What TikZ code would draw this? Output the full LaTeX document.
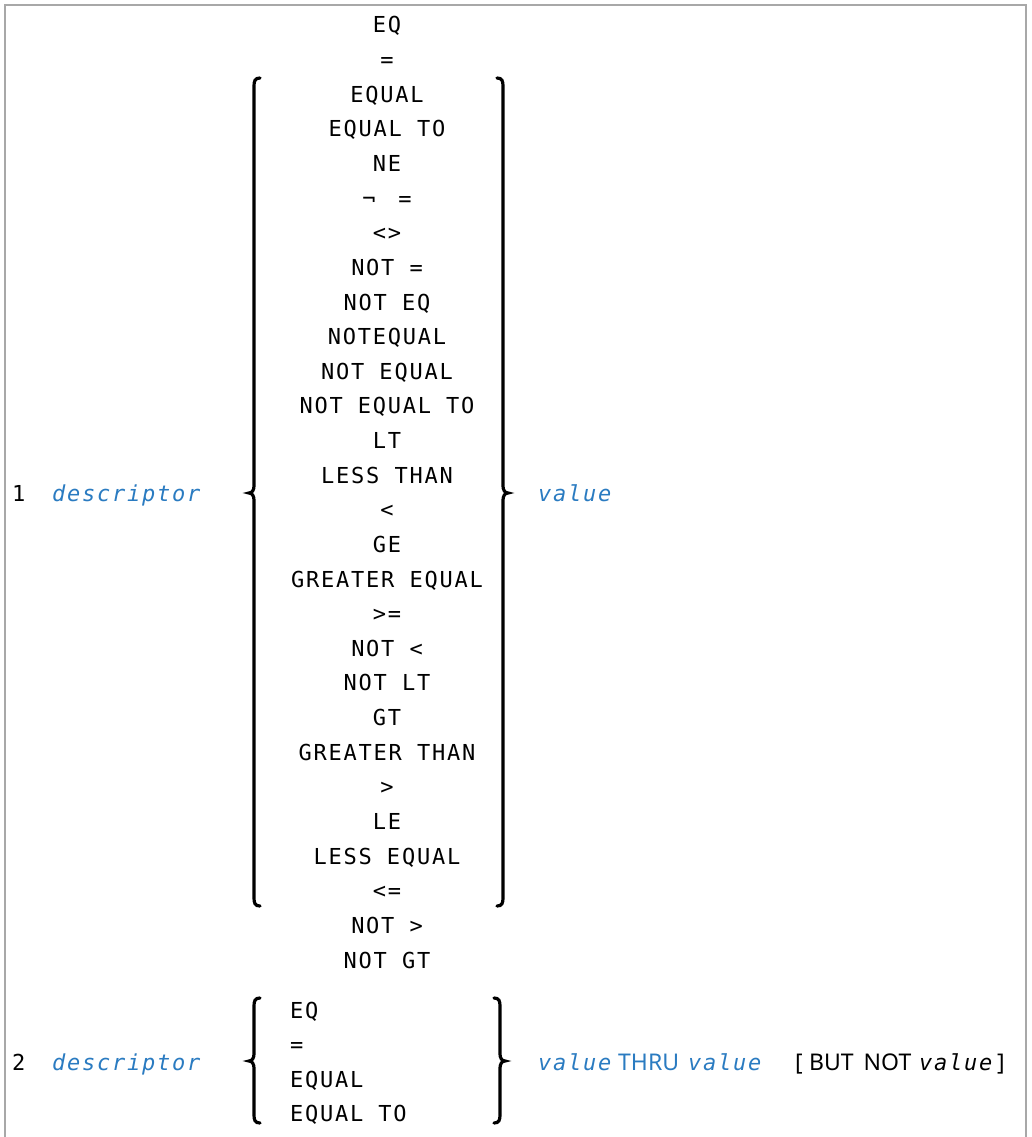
\documentclass[tikz,border=0pt]{standalone}
\usepackage{fontspec}
\newfontfamily\monofont{DejaVu Sans Mono}[LetterSpace=8]
\newfontfamily\uisans{Noto Sans}
\definecolor{kwblue}{HTML}{2A7BC1}
\definecolor{framegray}{HTML}{A8A8A8}
\tikzset{
  kw/.style={font=\monofont\fontsize{22}{22}\selectfont, inner sep=0pt, anchor=base},
  kwl/.style={kw, anchor=base west},
  var/.style={font=\monofont\itshape\fontsize{22}{22}\selectfont, text=kwblue, inner sep=0pt, anchor=base west},
  varblack/.style={var, text=black},
  plain/.style={font=\uisans\fontsize{23}{23}\selectfont, inner sep=0pt, anchor=base west},
  bracestroke/.style={line width=3.2pt, black, line cap=round},
}
\newcommand{\mkleftbrace}[4]{% x, top, mid, bottom
  \draw[bracestroke] ({#1+6},#2) .. controls ({#1+1},#2) and (#1,{#2+3}) .. (#1,{#2+8})
    -- (#1,{#3-7}) .. controls (#1,{#3-3}) and ({#1-2},#3) .. ({#1-5},#3)
    .. controls ({#1-2},#3) and (#1,{#3+3}) .. (#1,{#3+7})
    -- (#1,{#4-8}) .. controls (#1,{#4-3}) and ({#1+1},#4) .. ({#1+6},#4);}
\newcommand{\mkrightbrace}[4]{% x, top, mid, bottom
  \draw[bracestroke] ({#1-6},#2) .. controls ({#1-1},#2) and (#1,{#2+3}) .. (#1,{#2+8})
    -- (#1,{#3-7}) .. controls (#1,{#3-3}) and ({#1+2},#3) .. ({#1+5},#3)
    .. controls ({#1+2},#3) and (#1,{#3+3}) .. (#1,{#3+7})
    -- (#1,{#4-8}) .. controls (#1,{#4-3}) and ({#1-1},#4) .. ({#1-6},#4);}
\begin{document}
\begin{tikzpicture}[x=1pt,y=-1pt]
\useasboundingbox (0,0) rectangle (1031,1137);
\fill[white] (0,0) rectangle (1031,1137);
\draw[framegray, line width=2pt] (5,1138) -- (5,5) -- (1026,5) -- (1026,1138);

% ---- syntax 1 ----
\foreach \t [count=\i from 0] in {EQ,=,EQUAL,EQUAL TO,NE,{¬\hspace{8pt} =},<>,NOT =,NOT EQ,NOTEQUAL,NOT EQUAL,NOT EQUAL TO,LT,LESS THAN,<,GE,GREATER EQUAL,>=,NOT <,NOT LT,GT,GREATER THAN,>,LE,LESS EQUAL,<=,NOT >,NOT GT}
  \node[kw] (r\i) at (387,{33+34.63*\i}) {\t};

\node[kwl] (n1) at (12,501) {1};
\node[var] (d1) at (52,501) {descriptor};
\node[var] (v1) at (538,501) {value};
\mkleftbrace{254}{78}{493}{906}
\mkrightbrace{503}{78}{493}{906}

% ---- syntax 2 ----
\node[kwl] (n2) at (12,1070) {2};
\node[var] (d2) at (52,1070) {descriptor};
\node[kwl] (s1) at (290,1018) {EQ};
\node[kwl] (s2) at (290,1052) {=};
\node[kwl] (s3) at (290,1087) {EQUAL};
\node[kwl] (s4) at (290,1121) {EQUAL TO};
\mkleftbrace{254}{998}{1061}{1123}
\mkrightbrace{500}{998}{1061}{1123}
\node[var] (v2) at (538,1070) {value};
\node[plain, text=kwblue] (thru) at (618,1070) {THRU};
\node[var] (v3) at (688,1070) {value};
\node[plain] (lb) at (795,1070) {[};
\node[plain] (bn) at (809,1070) {BUT\hspace{10pt}NOT};
\node[varblack] (v4) at (919,1070) {value};
\node[plain] (rb) at (997,1070) {]};
\end{tikzpicture}
\end{document}
